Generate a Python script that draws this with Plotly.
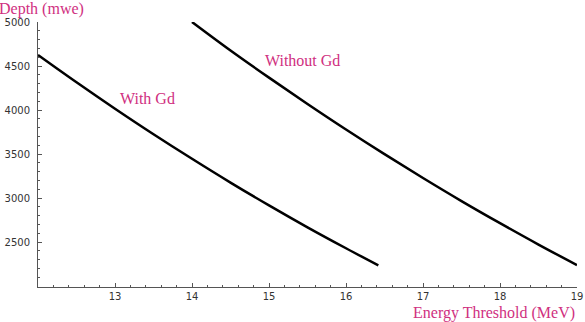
import plotly.graph_objects as go

# With Gd curve
with_gd_x = [12.0, 12.5, 13.0, 13.5, 14.0, 14.5, 15.0, 15.5, 16.0, 16.42]
with_gd_y = [4625, 4315, 4015, 3725, 3446, 3176, 2917, 2668, 2430, 2236]

# Without Gd curve
without_gd_x = [14.0, 14.5, 15.0, 15.5, 16.0, 16.5, 17.0, 17.5, 18.0, 18.5, 19.0]
without_gd_y = [5000, 4676, 4368, 4069, 3779, 3499, 3228, 2966, 2715, 2472, 2239]

stray_x = [11.9]
stray_y = [4693]

x_ticks = [13, 14, 15, 16, 17, 18, 19]
y_ticks = [2500, 3000, 3500, 4000, 4500, 5000]

label_color = "#d0307f"

fig = go.Figure()
fig.add_trace(go.Scatter(x=with_gd_x, y=with_gd_y, mode="lines",
                         line=dict(color="black", width=2.5, shape="spline"), showlegend=False))
fig.add_trace(go.Scatter(x=without_gd_x, y=without_gd_y, mode="lines",
                         line=dict(color="black", width=2.5, shape="spline"), showlegend=False))
fig.add_trace(go.Scatter(x=stray_x, y=stray_y, mode="markers",
                         marker=dict(color="black", size=3), cliponaxis=False, showlegend=False))

axis_common = dict(showgrid=False, zeroline=False, showline=True, linecolor="#555555", linewidth=1,
                   ticks="inside", tickcolor="#555555", ticklen=4, tickwidth=1, automargin=False,
                   tickfont=dict(family="DejaVu Sans", size=10, color="#333333"))

fig.update_xaxes(range=[12, 19], tickvals=x_ticks, ticktext=[str(v) for v in x_ticks],
                 minor=dict(dtick=0.2, ticks="inside", ticklen=2, tickcolor="#555555"),
                 **axis_common)
fig.update_yaxes(range=[1990, 5000], tickvals=y_ticks, ticktext=[str(v) for v in y_ticks],
                 ticklabelstandoff=5,
                 minor=dict(dtick=100, tick0=2000, ticks="inside", ticklen=2, tickcolor="#555555"),
                 **axis_common)

fig.add_annotation(x=13.42, y=4136, text="With Gd", showarrow=False,
                   font=dict(family="Liberation Serif", size=16, color=label_color))
fig.add_annotation(x=15.44, y=4568, text="Without Gd", showarrow=False,
                   font=dict(family="Liberation Serif", size=16, color=label_color))
fig.add_annotation(x=0, y=1, xref="paper", yref="paper", xanchor="left", yanchor="middle",
                   xshift=-41, yshift=13, text="Depth (mwe)", showarrow=False,
                   font=dict(family="Liberation Serif", size=16, color=label_color))
fig.add_annotation(x=1, y=0, xref="paper", yref="paper", xanchor="right", yanchor="top",
                   yshift=-15, text="Energy Threshold (MeV)", showarrow=False,
                   font=dict(family="Liberation Serif", size=16, color=label_color))

fig.update_layout(width=585, height=322, margin=dict(l=38, r=8, t=22, b=35),
                  paper_bgcolor="white", plot_bgcolor="white")

fig.write_html("out.html", config={"displayModeBar": False},
               post_script="document.body.style.margin='0';")
